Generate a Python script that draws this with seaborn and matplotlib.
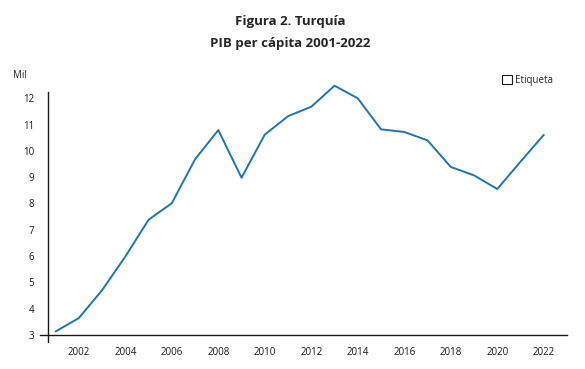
import matplotlib
matplotlib.use("Agg")
import matplotlib.pyplot as plt
import seaborn as sns
import pandas as pd
from matplotlib.patches import Patch

# PIB per cápita de Turquía, miles de USD
years = list(range(2001, 2023))
gdp_pc = [3.13, 3.64, 4.70, 5.98, 7.38, 8.01, 9.68, 10.79, 8.98, 10.62, 11.32,
          11.68, 12.48, 12.00, 10.82, 10.72, 10.40, 9.39, 9.07, 8.55, 9.59, 10.61]
x_ticks = list(range(2002, 2023, 2))
y_ticks = list(range(3, 13))

df = pd.DataFrame({"year": years, "gdp": gdp_pc})

sns.set_style("white")
plt.rcParams["font.family"] = ["Open Sans", "DejaVu Sans"]

fig = plt.figure(figsize=(5.85, 3.69), dpi=100)
ax = fig.add_axes([40 / 585, 1 - 342 / 369, 527 / 585, 250 / 369])

sns.lineplot(data=df, x="year", y="gdp", color="#1b75bb", linewidth=1.4, ax=ax)
for ln in ax.get_lines():
    ln.set_clip_on(False)

ax.set_xlim(2000.33, 2023.0)
ax.set_ylim(2.73, 12.24)
ax.set_xticks(x_ticks)
ax.set_yticks(y_ticks)
ax.tick_params(axis="both", length=0, labelsize=7, colors="#1a1a1a")
ax.tick_params(axis="x", pad=9)
ax.tick_params(axis="y", pad=10)
ax.set_xlabel("")
ax.set_ylabel("")

for s in ["top", "right"]:
    ax.spines[s].set_visible(False)
ax.spines["left"].set_position(("data", 2000.67))
ax.spines["bottom"].set_position(("data", 3))
for s in ["left", "bottom"]:
    ax.spines[s].set_color("#1a1a1a")
    ax.spines[s].set_linewidth(1.0)

fig.text(20 / 585, 1 - 76 / 369, "Mil", fontsize=7, ha="center", va="center")
fig.text(290 / 585, 1 - 21 / 369, "Figura 2. Turquía", fontsize=9.5,
         fontweight="bold", ha="center", va="center")
fig.text(290 / 585, 1 - 44 / 369, "PIB per cápita 2001-2022", fontsize=9.5,
         fontweight="bold", ha="center", va="center")

handle = Patch(facecolor="white", edgecolor="#1a1a1a", linewidth=0.8, label="Etiqueta")
fig.legend(handles=[handle], loc="center left", bbox_to_anchor=(502 / 585, 1 - 80 / 369),
           frameon=False, fontsize=7, handlelength=1.0, handleheight=1.0,
           handletextpad=0.35, borderpad=0, borderaxespad=0)

fig.savefig("out.png", dpi=100)
